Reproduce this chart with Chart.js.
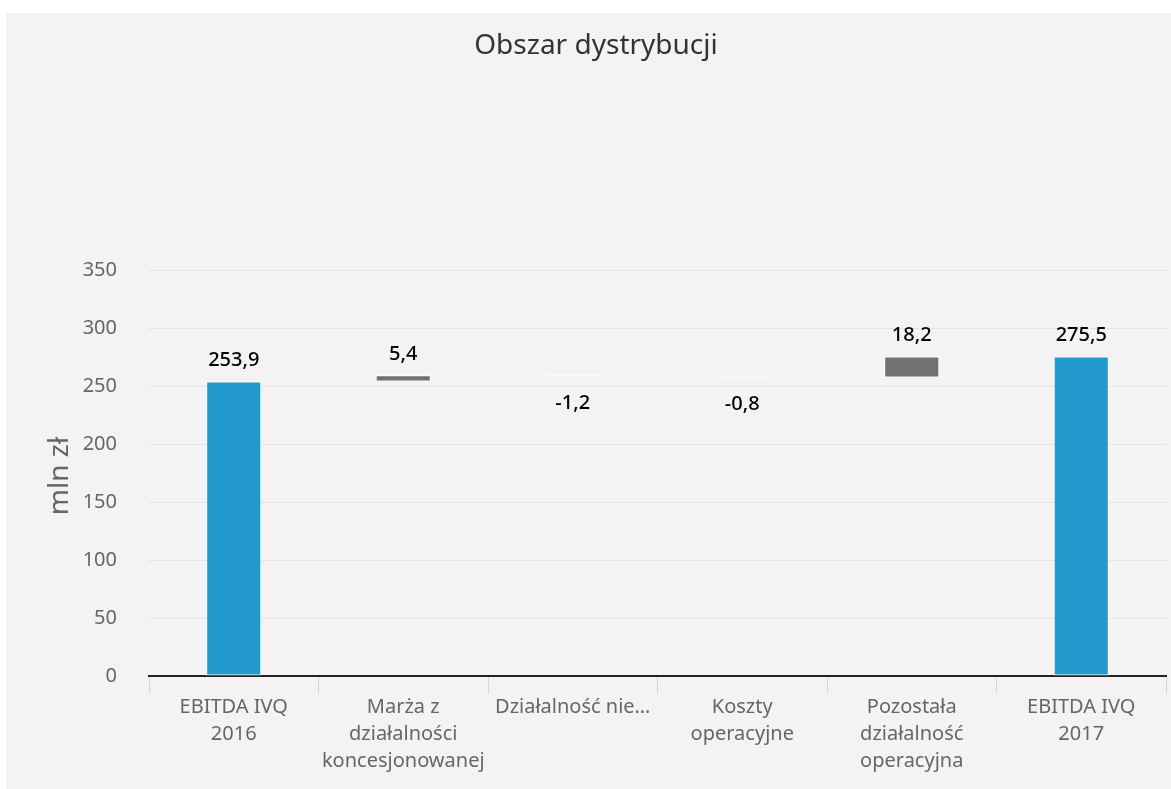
<!DOCTYPE html>
<html>
<head>
<meta charset="utf-8">
<script src="https://cdn.jsdelivr.net/npm/chart.js@4"></script>
<style>
  html, body { margin: 0; padding: 0; background: #fff; }
  #wrap { position: absolute; left: 6px; top: 13px; width: 1165px; height: 776px; background: #f3f3f3; }
</style>
</head>
<body>
<div id="wrap"><canvas id="chart"></canvas></div>
<script>
'use strict';

// ─── Data ────────────────────────────────────────────────────────────────────
const categories = [
  ['EBITDA IVQ', '2016'],
  ['Marża z', 'działalności', 'koncesjonowanej'],
  ['Działalność nie…'],
  ['Koszty', 'operacyjne'],
  ['Pozostała', 'działalność', 'operacyjna'],
  ['EBITDA IVQ', '2017'],
];
const changes = [253.9, 5.4, -1.2, -0.8, 18.2, 275.5];
const isTotal = [true, false, false, false, false, true];
const yTicks  = [0, 50, 100, 150, 200, 250, 300, 350];

// ─── Colours ─────────────────────────────────────────────────────────────────
const BLUE  = '#2199cc';
const GRAY  = '#717171';
const WHITE = '#ffffff';
const FONT  = "'Noto Sans', sans-serif";

// Floating ranges for the waterfall
let running = 0;
const ranges = changes.map((v, i) => {
  if (isTotal[i]) { running = v; return [0, v]; }
  const start = running;
  running += v;
  return [start, running];
});
const barColors = changes.map((v, i) => isTotal[i] ? BLUE : (v >= 0 ? GRAY : WHITE));

const fmt = (v) => v.toFixed(1).replace('.', ',');

// ─── Text plugin: title, y title, value labels ───────────────────────────────
const textPlugin = {
  id: 'textPlugin',
  afterDatasetsDraw(chart) {
    const { ctx, chartArea } = chart;
    ctx.save();
    ctx.fillStyle = '#333';
    ctx.font = `28px ${FONT}`;
    ctx.textAlign = 'center';
    ctx.textBaseline = 'middle';
    ctx.fillText('Obszar dystrybucji', 590, 33);

    ctx.save();
    ctx.translate(54, (chartArea.top + chartArea.bottom) / 2 + 3);
    ctx.rotate(-Math.PI / 2);
    ctx.fillStyle = '#666';
    ctx.font = `28px ${FONT}`;
    ctx.fillText('mln zł', 0, 0);
    ctx.restore();

    const meta = chart.getDatasetMeta(0);
    ctx.fillStyle = '#000';
    ctx.font = `500 20px ${FONT}`;
    meta.data.forEach((bar, i) => {
      const v = changes[i];
      const top = Math.min(bar.y, bar.base);
      const bottom = Math.max(bar.y, bar.base);
      if (v >= 0) ctx.fillText(fmt(v), bar.x, top - 21);
      else ctx.fillText(fmt(v), bar.x, bottom + 27);
    });
    ctx.restore();
  },
};

new Chart(document.getElementById('chart').getContext('2d'), {
  type: 'bar',
  data: {
    labels: categories,
    datasets: [{
      data:            ranges,
      backgroundColor: barColors,
      borderColor:     '#ffffff',
      borderWidth:     1,
      borderSkipped:   false,
      barPercentage:   0.325,
      categoryPercentage: 1,
    }],
  },
  options: {
    animation: false,
    responsive: true,
    maintainAspectRatio: false,
    layout: { padding: { top: 257, right: 5, left: 0, bottom: 0 } },
    plugins: {
      legend:  { display: false },
      tooltip: { enabled: false },
      title:   { display: false },
    },
    scales: {
      x: {
        offset: true,
        grid: {
          display: true,
          offset: true,
          drawOnChartArea: false,
          drawTicks: true,
          tickLength: 18,
          color: '#ccd6eb',
          lineWidth: 1,
        },
        border: { display: true, color: '#222', width: 2 },
        ticks: {
          color: '#666',
          font: { family: FONT, size: 20, lineHeight: 1.35 },
          padding: 0,
          maxRotation: 0,
          autoSkip: false,
        },
        afterFit(scale) { scale.height = 113; },
      },
      y: {
        min: 0,
        max: 350,
        afterBuildTicks(scale) { scale.ticks = yTicks.map(v => ({ value: v })); },
        grid: { color: '#e3e3e3', lineWidth: 1, drawTicks: false },
        border: { display: false },
        ticks: {
          color: '#666',
          font: { family: FONT, size: 20 },
          padding: 32,
        },
        afterFit(scale) { scale.width = 143; },
      },
    },
  },
  plugins: [textPlugin],
});
</script>
</body>
</html>
